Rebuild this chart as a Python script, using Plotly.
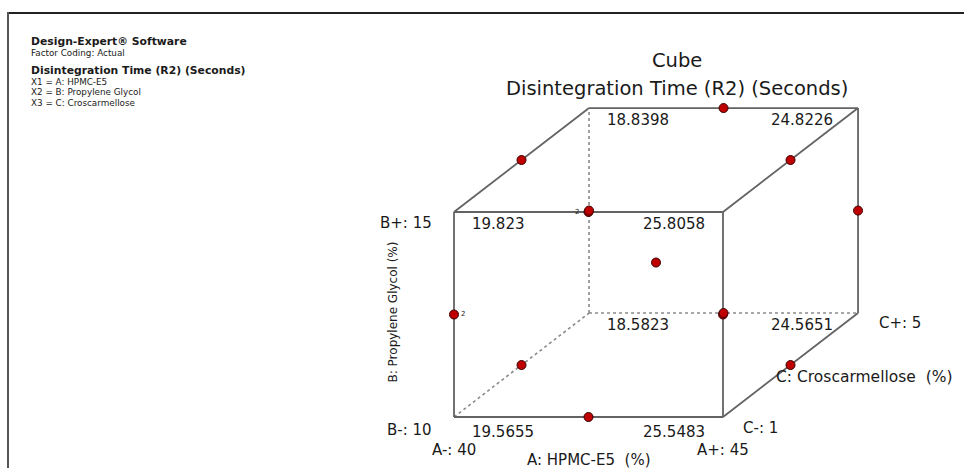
import plotly.graph_objects as go

# ---------------- data ----------------
A_LEVELS = [40, 45]          # A: HPMC-E5 (%)
B_LEVELS = [10, 15]          # B: Propylene Glycol (%)
C_LEVELS = [1, 5]            # C: Croscarmellose (%)

CORNER_A = [40, 45, 40, 45, 40, 45, 40, 45]
CORNER_B = [10, 10, 15, 15, 10, 10, 15, 15]
CORNER_C = [1, 1, 1, 1, 5, 5, 5, 5]
CORNER_R2 = [19.5655, 25.5483, 19.823, 25.8058, 18.5823, 24.5651, 18.8398, 24.8226]

RUN_A = [42.5, 40, 42.5, 45, 42.5, 45, 40, 45, 40, 45, 40, 42.5, 42.5]
RUN_B = [10, 12.5, 15, 12.5, 15, 12.5, 15, 15, 10, 10, 12.5, 10, 12.5]
RUN_C = [1, 1, 1, 1, 5, 5, 3, 3, 3, 3, 5, 5, 3]
RUN_REPS = [1, 2, 2, 1, 1, 1, 1, 1, 1, 1, 1, 1, 1]

INFO_LINES = [
    ("Design-Expert® Software", True),
    ("Factor Coding: Actual", False),
    ("", False),
    ("Disintegration Time (R2) (Seconds)", True),
    ("X1 = A: HPMC-E5", False),
    ("X2 = B: Propylene Glycol", False),
    ("X3 = C: Croscarmellose", False),
]

# ---------------- projection (oblique cube) ----------------
W, H = 964, 468
X0PX, Y0PX = 454, 417        # pixel of (A-, B-, C-)
UX, UY = 269, 205            # pixels per unit of A and B
DX, DY = 0.502, 0.507        # depth offset for C


def proj(a, b, c):
    an = (a - A_LEVELS[0]) / (A_LEVELS[1] - A_LEVELS[0])
    bn = (b - B_LEVELS[0]) / (B_LEVELS[1] - B_LEVELS[0])
    cn = (c - C_LEVELS[0]) / (C_LEVELS[1] - C_LEVELS[0])
    return an + DX * cn, bn + DY * cn


FONT = "DejaVu Sans"
TXT = "#1a1a1a"
EDGE = "#636363"

fig = go.Figure()

corners = [proj(a, b, c) for a, b, c in zip(CORNER_A, CORNER_B, CORNER_C)]
edges = []
for i in range(8):
    for j in range(i + 1, 8):
        diff = sum([CORNER_A[i] != CORNER_A[j], CORNER_B[i] != CORNER_B[j], CORNER_C[i] != CORNER_C[j]])
        if diff == 1:
            edges.append((i, j))
hidden = 4  # corner (A-, B-, C+)
solid_x, solid_y, dot_x, dot_y = [], [], [], []
for i, j in edges:
    xs = [corners[i][0], corners[j][0], None]
    ys = [corners[i][1], corners[j][1], None]
    if hidden in (i, j):
        dot_x += xs
        dot_y += ys
    else:
        solid_x += xs
        solid_y += ys

fig.add_trace(go.Scatter(x=dot_x, y=dot_y, mode="lines",
                         line=dict(color="#8a8a8a", width=1.6, dash="dot"),
                         hoverinfo="skip", showlegend=False))
fig.add_trace(go.Scatter(x=solid_x, y=solid_y, mode="lines",
                         line=dict(color=EDGE, width=1.8),
                         hoverinfo="skip", showlegend=False))

run_pts = [proj(a, b, c) for a, b, c in zip(RUN_A, RUN_B, RUN_C)]
fig.add_trace(go.Scatter(x=[p[0] for p in run_pts], y=[p[1] for p in run_pts],
                         mode="markers",
                         marker=dict(size=9, color="#c00000", line=dict(color="#3a0000", width=1)),
                         hoverinfo="skip", showlegend=False))

ann = []


def add(text, x, y, size=15, xanchor="center", yanchor="middle", xshift=0, yshift=0,
        angle=0, bold=False, xref="x", yref="y"):
    ann.append(dict(text=("<b>%s</b>" % text) if bold else text, x=x, y=y,
                    xref=xref, yref=yref, showarrow=False, xanchor=xanchor, yanchor=yanchor,
                    xshift=xshift, yshift=yshift, textangle=angle, borderpad=0,
                    font=dict(family=FONT, size=size, color=TXT)))


# replicate markers
for (px, py), r, a in zip(run_pts, RUN_REPS, RUN_A):
    if r > 1:
        if a == A_LEVELS[0]:
            add(str(r), px, py, size=7, xanchor="left", xshift=6, yshift=1)
        else:
            add(str(r), px, py, size=7, xanchor="right", xshift=-9, yshift=0)

# corner responses
for (px, py), a, b, c, v in zip(corners, CORNER_A, CORNER_B, CORNER_C, CORNER_R2):
    left = a == A_LEVELS[0]
    front = c == C_LEVELS[0]
    top = b == B_LEVELS[1]
    if left:
        xa, xs = "left", 17
    else:
        xa, xs = "right", (-17 if front else -24)
    ys = -12 if (top or not front) else -15
    add(f"{v:g}", px, py, xanchor=xa, xshift=xs, yshift=ys)

# factor labels
fx0, fy0 = proj(A_LEVELS[0], B_LEVELS[0], C_LEVELS[0])
fx1, fy1 = proj(A_LEVELS[1], B_LEVELS[1], C_LEVELS[0])
bx1, by1 = proj(A_LEVELS[1], B_LEVELS[0], C_LEVELS[1])
add(f"B+: {B_LEVELS[1]}", fx0, fy1, xanchor="right", xshift=-21, yshift=-11)
add(f"B-: {B_LEVELS[0]}", fx0, fy0, xanchor="right", xshift=-21, yshift=-13)
add(f"A-: {A_LEVELS[0]}", fx0, fy0, yshift=-33)
add(f"A+: {A_LEVELS[1]}", fx1, fy0, yshift=-33)
add("A: HPMC-E5  (%)", (fx0 + fx1) / 2, fy0, yshift=-43)
add(f"C-: {C_LEVELS[0]}", fx1, fy0, xanchor="left", xshift=19, yshift=-11)
add(f"C+: {C_LEVELS[1]}", bx1, by1, xanchor="left", xshift=20, yshift=-10)
mx, my = proj(A_LEVELS[1], B_LEVELS[0], sum(C_LEVELS) / 2)
add("C: Croscarmellose  (%)", mx, my, size=15.5, xanchor="left", xshift=-16, yshift=-12)
lx, ly = proj(A_LEVELS[0], sum(B_LEVELS) / 2, C_LEVELS[0])
add("B: Propylene Glycol (%)", lx, ly, size=12, angle=-90, xshift=-62, yshift=2)

# titles
add("Cube", 677 / W, 1 - 61 / H, size=19.5, xref="paper", yref="paper")
add("Disintegration Time (R2) (Seconds)", 677 / W, 1 - 88 / H, size=19.5, xref="paper", yref="paper")

# info block
ys_px = [41, 52.5, 61, 70, 81.5, 92, 102.5]
for (t, b), ypx in zip(INFO_LINES, ys_px):
    if t:
        add(t, 30 / W, 1 - ypx / H, size=10.8 if b else 8.8, xanchor="left", bold=b,
            xref="paper", yref="paper")

fig.update_layout(
    width=W, height=H, margin=dict(l=0, r=0, t=0, b=0),
    paper_bgcolor="white", plot_bgcolor="white",
    xaxis=dict(range=[-X0PX / UX, (W - X0PX) / UX], visible=False, fixedrange=True),
    yaxis=dict(range=[-(H - Y0PX) / UY, Y0PX / UY], visible=False, fixedrange=True),
    annotations=ann,
    shapes=[
        dict(type="line", xref="paper", yref="paper", x0=8 / W, x1=1, y0=1 - 13 / H, y1=1 - 13 / H,
             line=dict(color="#222", width=2)),
        dict(type="line", xref="paper", yref="paper", x0=8 / W, x1=8 / W, y0=1 - 12 / H, y1=0,
             line=dict(color="#555", width=2)),
    ],
)

fig.write_html("out.html")
